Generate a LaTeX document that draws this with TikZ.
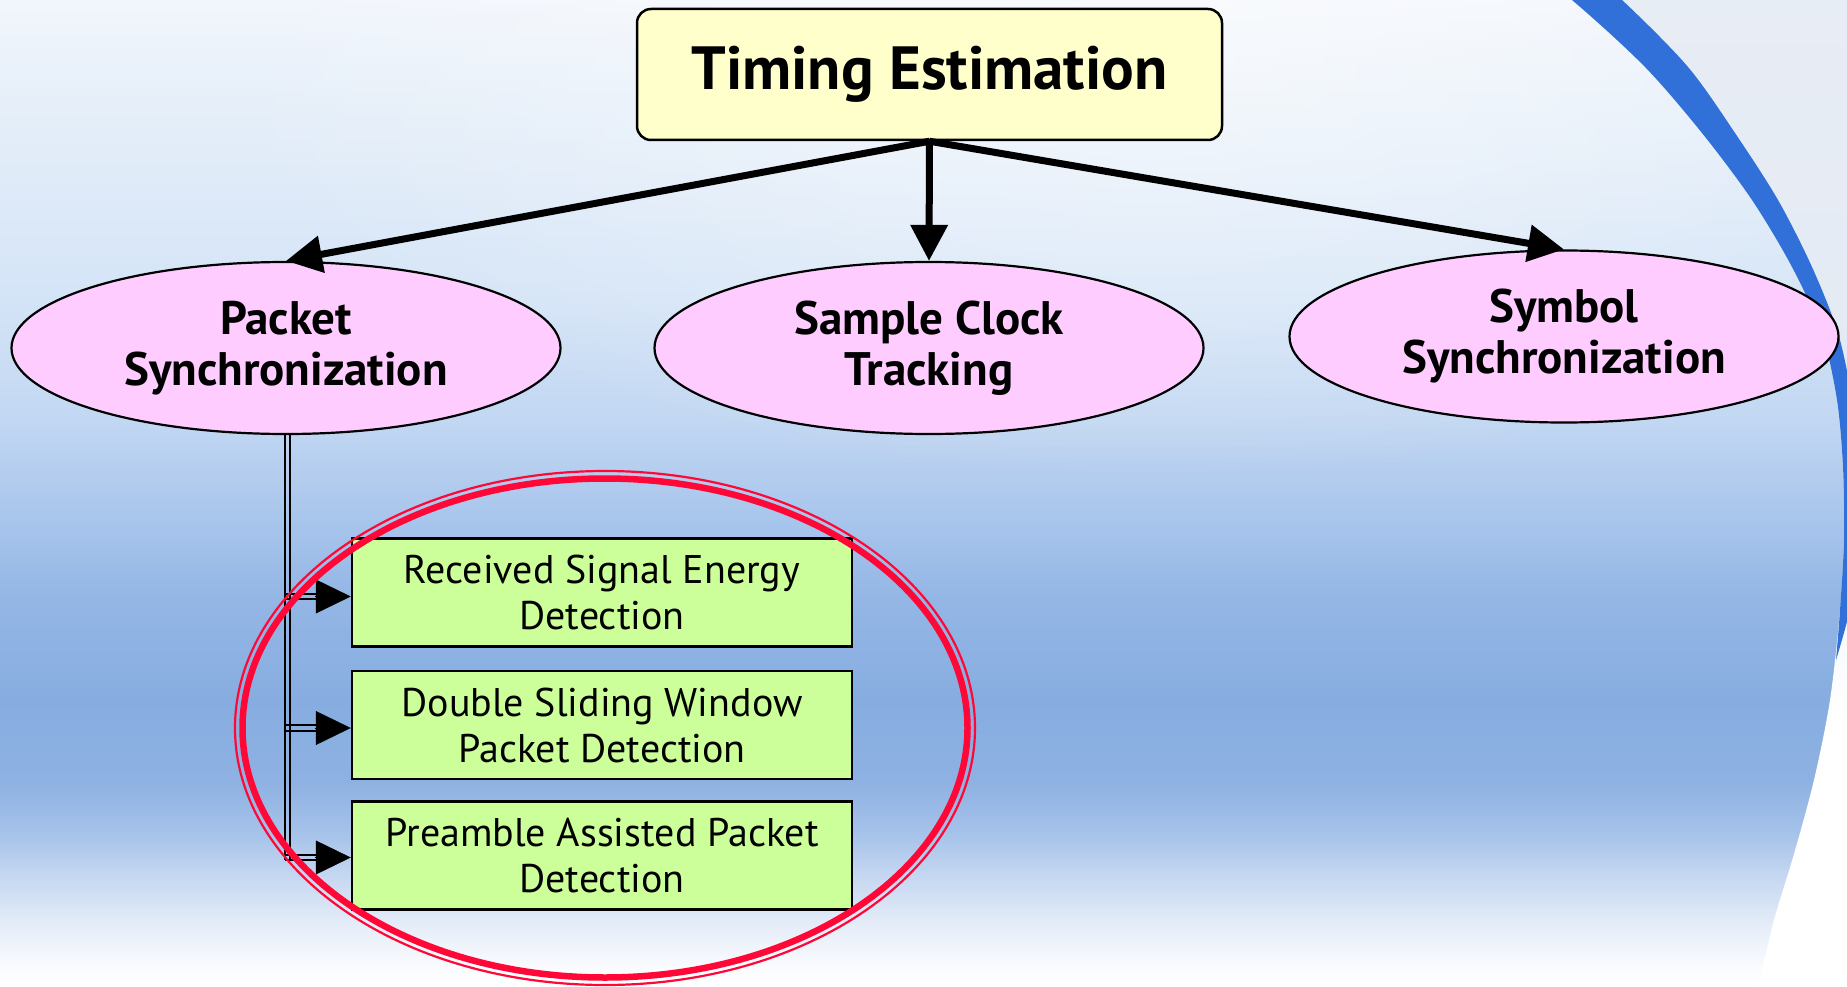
\documentclass[tikz,border=0pt]{standalone}
\usepackage{fontspec}
\setmainfont{PT Sans}
\usetikzlibrary{arrows.meta,shapes.geometric,fadings}

\definecolor{ybox}{HTML}{FFFFCC}
\definecolor{pell}{HTML}{FFCCFF}
\definecolor{gbox}{HTML}{CCFF99}
\definecolor{redc}{RGB}{255,8,55}
\definecolor{arcblue}{RGB}{48,112,216}
\definecolor{s00}{HTML}{F2F6FC}
\definecolor{s01}{HTML}{E6EFF9}
\definecolor{s02}{HTML}{D4E4F7}
\definecolor{s03}{HTML}{C2D7F2}
\definecolor{s04}{HTML}{A8C5EC}
\definecolor{s05}{HTML}{93B6E5}
\definecolor{s06}{HTML}{87ADE0}
\definecolor{s07}{HTML}{8DB1E2}
\definecolor{s08}{HTML}{A4C1E9}
\definecolor{s09}{HTML}{C8D9F2}
\definecolor{s10}{HTML}{E8EFF9}
\definecolor{s11}{HTML}{FBFCFE}
\definecolor{s12}{HTML}{FFFFFF}
\definecolor{outtop}{HTML}{E8EDF5}
\definecolor{outmid}{HTML}{E4EAF3}

\pgfdeclareverticalshading{bgshade}{100bp}{color(0bp)=(s12); color(25bp)=(s12); color(25.86bp)=(s11); color(27.89bp)=(s10); color(30.42bp)=(s09); color(32.95bp)=(s08); color(35.49bp)=(s07); color(39.54bp)=(s06); color(44.6bp)=(s05); color(48.66bp)=(s04); color(53.72bp)=(s03); color(59.8bp)=(s02); color(69.93bp)=(s01); color(75bp)=(s00); color(100bp)=(s00)}

\pgfdeclareverticalshading{outshade}{100bp}{color(0bp)=(s12); color(25bp)=(s12); color(40bp)=(s12); color(55bp)=(outmid); color(75bp)=(outtop); color(100bp)=(outtop)}

\tikzfading[name=glow, inner color=transparent!0, outer color=transparent!100]

\begin{document}
\begin{tikzpicture}[x=1pt,y=-1pt,
  topbox/.style={draw=black, line width=2.5pt, fill=ybox, rounded corners=14pt,
    minimum width=585pt, minimum height=131pt, inner sep=0pt,
    font=\fontsize{61}{70}\selectfont\bfseries},
  ell/.style={ellipse, draw=black, line width=2.2pt, fill=pell,
    minimum width=549pt, minimum height=172pt, inner sep=0pt, align=center,
    font=\fontsize{47}{51}\selectfont\bfseries},
  gb/.style={draw=black, line width=2.5pt, fill=gbox,
    minimum width=500pt, minimum height=108pt, inner sep=0pt, align=center,
    font=\fontsize{40}{46}\selectfont},
  mainarrow/.style={line width=7pt, -{Triangle[length=36pt,width=36pt]}},
  busline/.style={line width=1.6pt},
  tiparrow/.style={line width=0.5pt, -{Triangle[length=35pt,width=34pt]}},
  ring/.style={draw=redc}
]
\useasboundingbox (0,0) rectangle (1847,987);

% ---------- background ----------
\begin{scope}
\clip (0,0) rectangle (1847,987);
\shade[shading=bgshade] (0,0) rectangle (1847,987);
\fill[white, path fading=glow, fill opacity=0.55] (1150,60) ellipse [x radius=950pt, y radius=420pt];
\shade[shading=outshade]
  plot[smooth] coordinates {(1487,-67) (1572,0) (1645,67) (1702,133) (1752,200) (1792,267) (1822,333) (1837,400) (1843,467) (1844,540) (1840,610) (1830,700) (1814,780) (1794,854) (1774,920) (1758,987) (1740,1054)}
  -- (1900,1054) -- (1900,-67) -- cycle;
\fill[arcblue]
  plot[smooth] coordinates {(1487,-67) (1572,0) (1645,67) (1702,133) (1752,200) (1792,267) (1822,333) (1837,400) (1843,467) (1844,540) (1840,610) (1836,660)}
  -- plot[smooth] coordinates {(1836,660) (1852,600) (1858,530) (1857,467) (1852,400) (1838,333) (1812,267) (1778,200) (1735,133) (1688,67) (1622,0) (1545,-67)}
  -- cycle;
\end{scope}

% ---------- nodes ----------
\node[topbox] (te) at (929.5,74.5) {\raisebox{-3pt}{Timing Estimation}};
\node[ell] (ps) at (286,348) {Packet\\Synchronization};
\node[ell] (sc) at (929,348) {Sample Clock\\Tracking};
\node[ell] (ss) at (1564,336.5) {Symbol\\Synchronization};

\node[gb] (b1) at (602,592.5) {Received Signal Energy\\Detection};
\node[gb] (b2) at (602,725) {Double Sliding Window\\Packet Detection};
\node[gb] (b3) at (602,855.5) {Preamble Assisted Packet\\Detection};

\coordinate (busend) at (287.5,860);
\coordinate (a1) at ([yshift=-4pt]b1.west);
\coordinate (a2) at ([yshift=-3pt]b2.west);
\coordinate (a3) at ([yshift=-2pt]b3.west);

% ---------- main connectors ----------
\draw[mainarrow] (te.south) -- (ps.north);
\draw[mainarrow] (te.south) -- (sc.north);
\draw[mainarrow] (te.south) -- (ss.north);

% ---------- bus (double line) ----------
\draw[busline] ([xshift=-2.75pt]ps.south -| busend) -- ([xshift=-2.75pt]busend);
\draw[busline] ([xshift=2.75pt]ps.south -| busend) -- ([xshift=2.75pt]busend);
\foreach \a in {a1,a2,a3}{
  \draw[busline] ([xshift=-2.75pt,yshift=2.75pt]\a -| busend) -- ([xshift=-34pt,yshift=2.75pt]\a);
  \draw[busline] ([xshift=-2.75pt,yshift=-2.75pt]\a -| busend) -- ([xshift=-34pt,yshift=-2.75pt]\a);
  \draw[tiparrow] ([xshift=-36pt]\a) -- (\a);
}

% ---------- red highlight ring ----------
\draw[ring, line width=2.2pt] (605,728) ellipse [x radius=370pt, y radius=257pt];
\draw[ring, line width=6.5pt] (605,728) ellipse [x radius=362.5pt, y radius=249.5pt];
\end{tikzpicture}
\end{document}
